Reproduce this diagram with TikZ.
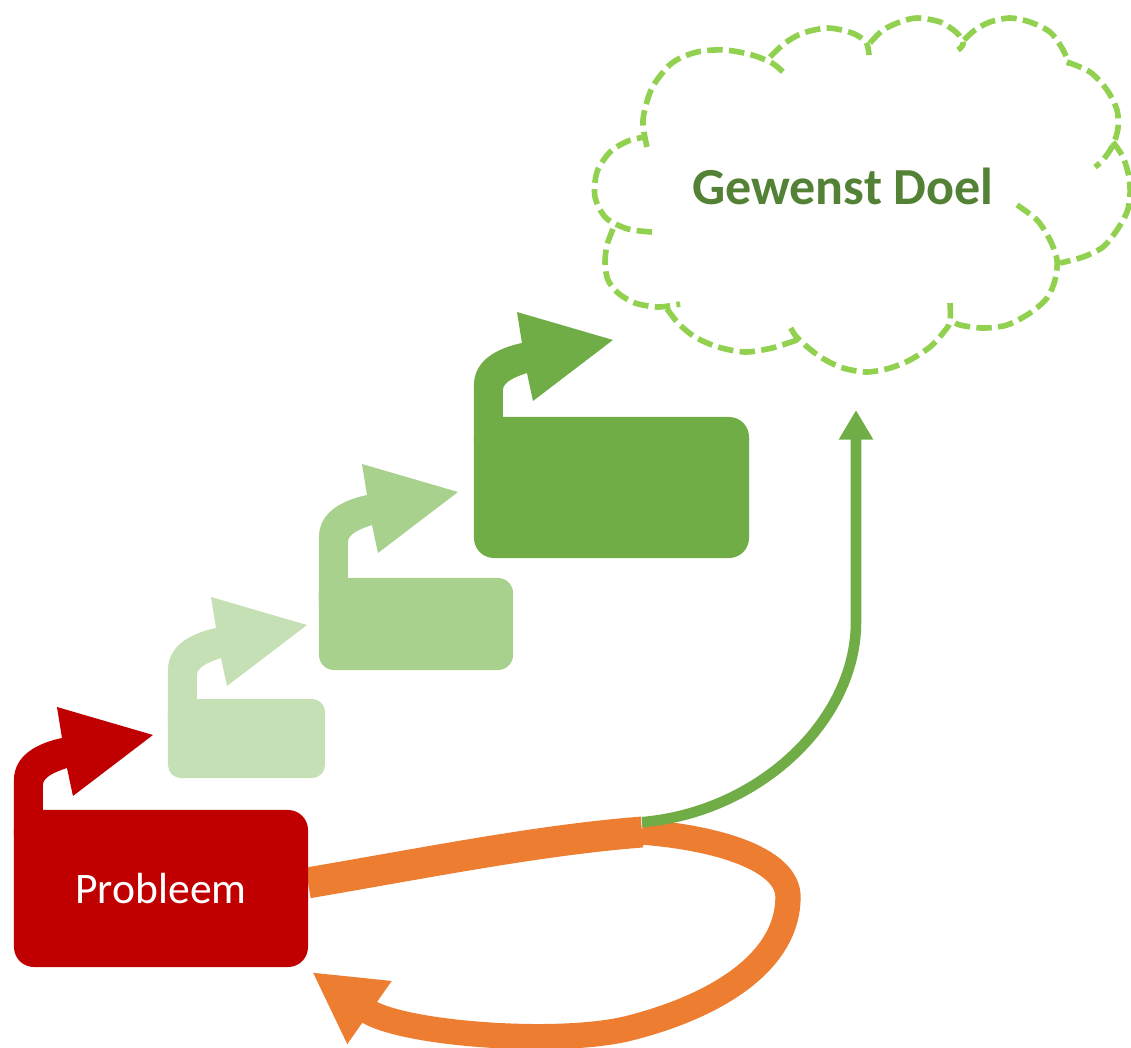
\documentclass[tikz,border=0pt]{standalone}
\usepackage{fontspec}
\setmainfont{Carlito}
\usetikzlibrary{arrows.meta, backgrounds}

\definecolor{probred}{HTML}{C00000}
\definecolor{stepA}{HTML}{C5E0B4}
\definecolor{stepB}{HTML}{A9D18E}
\definecolor{stepC}{HTML}{70AD47}
\definecolor{cloudgreen}{HTML}{92D050}
\definecolor{goalgreen}{HTML}{538135}
\definecolor{loopOrange}{HTML}{ED7D31}

% bent-up arrow on top of a box: #1 colour, #2 box, #3 rise of the tip above the box
\newcommand{\bentarrow}[3]{%
  \fill[#1, shift={(#2.north west)}]
    (0,25) -- (0,{45-#3}) .. controls (0,{20-#3}) and (24,{8-#3}) .. (48,{3-#3})
    -- (43,{-28-#3}) -- (139,-#3) -- (59,{61-#3}) -- (53,{33-#3})
    .. controls (41,{37-#3}) and (29,{42-#3}) .. (29,{50-#3}) -- (29,25) -- cycle;}

\begin{document}
\begin{tikzpicture}[x=0.025cm, y=-0.025cm,
    stepbox/.style={rectangle, inner sep=0pt, outer sep=0pt},
    lobe/.style={draw=cloudgreen, line width=4pt, dash pattern=on 11pt off 4.5pt}]

  \useasboundingbox (0,0) rectangle (1131,1047);

  % Steps
  \node[stepbox, fill=probred, minimum width=7.35cm, minimum height=3.925cm, rounded corners=0.5cm,
        text=white, font=\fontsize{31}{37}\selectfont] (probleem) at (161,888.5) {Probleem};
  \node[stepbox, fill=stepA, minimum width=3.925cm, minimum height=1.975cm, rounded corners=0.325cm] (stap1) at (246.5,738.5) {};
  \node[stepbox, fill=stepB, minimum width=4.85cm, minimum height=2.3cm, rounded corners=0.375cm] (stap2) at (416,624) {};
  \node[stepbox, fill=stepC, minimum width=6.875cm, minimum height=3.525cm, rounded corners=0.5cm] (stap3) at (611.5,487.5) {};

  \bentarrow{probred}{probleem}{75}
  \bentarrow{stepA}{stap1}{74}
  \bentarrow{stepB}{stap2}{86}
  \bentarrow{stepC}{stap3}{77}

  % Cloud
  \draw[lobe] plot[smooth] coordinates {(652,232) (628,229) (606,218) (595,197) (597,172) (610,152) (628,141) (645,137)};
  \draw[lobe] plot[smooth] coordinates {(647,147) (643,120) (652,88) (672,63) (697,52) (725,50) (752,55) (772,63) (783,72)};
  \draw[lobe] plot[smooth] coordinates {(770,57) (785,43) (803,33) (828,28) (852,33) (866,42) (869,55)};
  \draw[lobe] plot[smooth] coordinates {(870,43) (883,30) (900,22) (917,18) (940,22) (957,33) (963,44) (958,50)};
  \draw[lobe] plot[smooth] coordinates {(964,40) (975,30) (990,22) (1010,18) (1030,22) (1050,32) (1062,48) (1070,65)};
  \draw[lobe] plot[smooth] coordinates {(1067,62) (1090,72) (1107,90) (1117,110) (1118,128) (1113,145) (1103,160) (1095,167)};
  \draw[lobe] plot[smooth] coordinates {(1113,142) (1123,157) (1129,177) (1130,195) (1127,212) (1117,230) (1103,247) (1083,257) (1060,263)};
  \draw[lobe] plot[smooth] coordinates {(1017,205) (1037,220) (1050,240) (1057,260) (1055,280) (1047,298) (1030,313) (1007,325) (983,328) (960,325) (950,320)};
  \draw[lobe] plot[smooth] coordinates {(950,303) (950,322) (943,333) (930,347) (910,360) (890,368) (867,372) (843,368) (822,358) (805,345) (795,335) (788,323)};
  \draw[lobe] plot[smooth] coordinates {(797,340) (772,348) (745,352) (718,347) (695,337) (678,323) (665,306)};
  \draw[lobe] plot[smooth] coordinates {(613,229) (607,245) (605,263) (608,280) (618,293) (635,303) (658,307) (680,304)};
  \node[text=goalgreen, font=\bfseries\fontsize{37}{44}\selectfont] (doel) at (843,186) {Gewenst Doel};

  % Connectors
  \coordinate (fork) at (642,832);
  \coordinate (doelin) at (856,410);
  \begin{scope}[on background layer]
    \draw[loopOrange, line width=22pt] ([yshift=4pt]probleem.east) .. controls (430,862) and (540,840) .. (fork);
  \end{scope}
  \draw[loopOrange, line width=18pt, -{Triangle[length=50pt, width=51pt]}]
    (fork) .. controls (720,838) and (788,860) .. (788,897)
    .. controls (788,960) and (720,1005) .. (630,1028)
    .. controls (560,1046) and (400,1034) .. ([shift={(4,5)}]probleem.south east);
  \draw[stepC, line width=7.5pt, -{Triangle[length=21pt, width=23pt]}]
    ([yshift=7pt]fork) .. controls (760,812) and (856,720) .. (856,622) -- (doelin);

\end{tikzpicture}
\end{document}
